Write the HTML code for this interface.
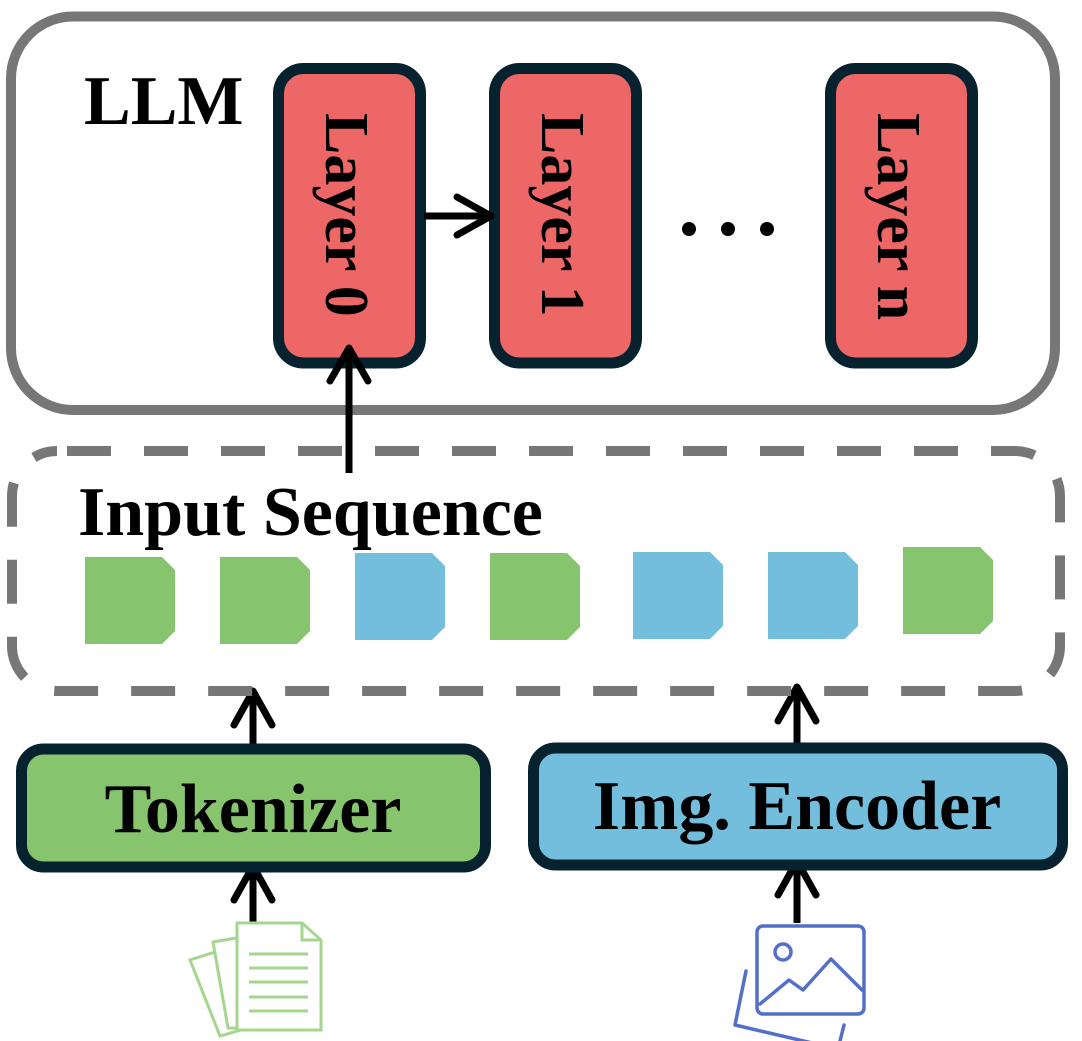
<!DOCTYPE html>
<html><head><meta charset="utf-8"><style>html,body{margin:0;padding:0;background:#fff}svg{display:block}</style></head>
<body>
<svg width="1082" height="1041" viewBox="0 0 1082 1041" xmlns="http://www.w3.org/2000/svg" font-family="'Liberation Serif', serif" font-weight="bold">
<!-- LLM box -->
<rect x="11" y="16.5" width="1044" height="393.5" rx="62" fill="#fff" stroke="#777" stroke-width="10"/>
<text x="84" y="124" font-size="70">LLM</text>
<!-- layers -->
<g fill="#EE6767" stroke="#06222F" stroke-width="11">
<rect x="278.5" y="68.5" width="142" height="294.5" rx="25"/>
<rect x="494.5" y="68.5" width="142" height="294.5" rx="25"/>
<rect x="830.5" y="68.5" width="142" height="294.5" rx="25"/>
</g>
<g font-size="62" fill="#000">
<text transform="translate(326,113) rotate(90)">Layer 0</text>
<text transform="translate(542,113) rotate(90)">Layer 1</text>
<text transform="translate(878,113) rotate(90)">Layer n</text>
</g>
<circle cx="689" cy="229" r="7" fill="#000"/>
<circle cx="728" cy="229" r="7" fill="#000"/>
<circle cx="767" cy="229" r="7" fill="#000"/>
<g stroke="#000" stroke-width="7" fill="none" stroke-linecap="round" stroke-linejoin="round">
<line x1="424" y1="216" x2="488" y2="216" stroke-linecap="butt"/>
<polyline points="457,197 491,216 457,235"/>
<line x1="349" y1="473" x2="349" y2="352" stroke-linecap="butt"/>
<polyline points="330,381 349,348 368,381"/>
<line x1="253" y1="752" x2="253" y2="694" stroke-linecap="butt"/>
<polyline points="234,725 253,691 272,725"/>
<line x1="253" y1="928" x2="253" y2="869" stroke-linecap="butt"/>
<polyline points="234,900 253,866 272,900"/>
<line x1="797" y1="749" x2="797" y2="690" stroke-linecap="butt"/>
<polyline points="778,721 797,687 816,721"/>
<line x1="797" y1="923" x2="797" y2="864" stroke-linecap="butt"/>
<polyline points="778,895 797,861 816,895"/>
</g>
<!-- dashed input box -->
<rect x="12" y="451" width="1048" height="240" rx="45" fill="none" stroke="#777" stroke-width="10" stroke-dasharray="44 33" stroke-dashoffset="-10"/>
<text x="78" y="535" font-size="70">Input Sequence</text>
<!-- tokens -->
<g>
<path d="M85,557h77l13,13v61l-13,13h-77z" fill="#86C46E"/>
<path d="M220,557h77l13,13v61l-13,13h-77z" fill="#86C46E"/>
<path d="M355,553h77l13,13v61l-13,13h-77z" fill="#74BEDD"/>
<path d="M490,553h77l13,13v61l-13,13h-77z" fill="#86C46E"/>
<path d="M633,552h77l13,13v61l-13,13h-77z" fill="#74BEDD"/>
<path d="M768,552h77l13,13v61l-13,13h-77z" fill="#74BEDD"/>
<path d="M903,547h77l13,13v61l-13,13h-77z" fill="#86C46E"/>
</g>
<!-- tokenizer / encoder -->
<rect x="21.5" y="749" width="464" height="118" rx="22" fill="#86C46E" stroke="#06222F" stroke-width="11"/>
<text x="253" y="832" font-size="70" text-anchor="middle">Tokenizer</text>
<rect x="533.5" y="748" width="529" height="117" rx="22" fill="#74BEDD" stroke="#06222F" stroke-width="11"/>
<text x="797" y="829" font-size="70" text-anchor="middle">Img. Encoder</text>
<!-- doc icon -->
<g fill="none" stroke="#A5D68F" stroke-width="3">
<path d="M215,952 L190,960 L220,1036 L262,1024"/>
<path d="M236,938 L213,942 L228,1028 L300,1030"/>
<path d="M237,923 L302,923 L321,940 L321,1030 L237,1030 Z" fill="#fff"/>
<path d="M302,923 L302,940 L321,940"/>
<line x1="249" y1="954" x2="308" y2="954"/>
<line x1="249" y1="968" x2="308" y2="968"/>
<line x1="249" y1="982" x2="308" y2="982"/>
<line x1="249" y1="997" x2="308" y2="997"/>
<line x1="249" y1="1011" x2="308" y2="1011"/>
</g>
<!-- image icon -->
<g fill="none" stroke="#5470C6" stroke-width="3.5" stroke-linejoin="round" stroke-linecap="round">
<path d="M746,971 L735,1025 L838,1049 L844,1025"/>
<rect x="757" y="926" width="107" height="88" rx="6" fill="#fff"/>
<circle cx="783" cy="952" r="8"/>
<polyline points="760,1004 789,980 803,990 831,959 862,990"/>
</g>
</svg>
</body></html>
